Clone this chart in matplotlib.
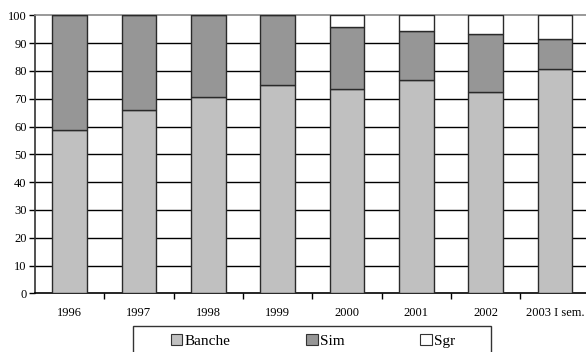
import matplotlib
matplotlib.use("Agg")
import matplotlib.pyplot as plt
from matplotlib.patches import Rectangle, Patch
import numpy as np

categories = ["1996", "1997", "1998", "1999", "2000", "2001", "2002", "2003 I sem."]
banche = [58.6, 66.0, 70.5, 75.0, 73.5, 76.8, 72.5, 80.6]
sim = [41.4, 34.0, 29.5, 25.0, 22.3, 17.7, 20.7, 10.8]
sgr = [0.0, 0.0, 0.0, 0.0, 4.2, 5.5, 6.8, 8.6]
yticks = list(range(0, 101, 10))

plt.rcParams["font.family"] = ["Liberation Serif", "DejaVu Serif"]

W, H = 586, 352
fig = plt.figure(figsize=(W / 100, H / 100), dpi=100)
left, right, top, bottom = 35, 589.5, 15.3, 293.3
ax = fig.add_axes([left / W, 1 - bottom / H, (right - left) / W, (bottom - top) / H])

x = np.arange(len(categories))
b = np.array(banche)
s = np.array(sim)
g = np.array(sgr)
edge = dict(edgecolor="#2a2a2a", linewidth=1.0, zorder=3)
ax.bar(x, b, width=0.5, color="#c0c0c0", **edge)
ax.bar(x, s, width=0.5, bottom=b, color="#969696", **edge)
ax.bar(x, g, width=0.5, bottom=b + s, color="#ffffff", **edge)

ax.set_xlim(-0.5, len(categories) - 0.5)
ax.set_ylim(0, 100)
ax.set_yticks(yticks)
ax.tick_params(axis="y", direction="out", length=4, width=1, labelsize=9, pad=2, colors="black")
ax.set_xticks(x)
ax.set_xticklabels(categories)
ax.tick_params(axis="x", which="major", length=0, labelsize=9, pad=10)
ax.set_xticks(np.arange(0.5, len(categories) - 0.5, 1), minor=True)
ax.tick_params(axis="x", which="minor", direction="out", length=4, width=1, color="black")

for yv in yticks[1:-1]:
    ax.axhline(yv, color="black", linewidth=1.0, zorder=1)

ax.spines["right"].set_visible(False)
ax.spines["top"].set_color("#888888")
ax.spines["top"].set_linewidth(1.2)
ax.spines["left"].set_color("#333333")
ax.spines["left"].set_linewidth(1.2)
ax.spines["bottom"].set_color("black")
ax.spines["bottom"].set_linewidth(1.2)

# legend frame and entries below the plot
fig.patches.append(Rectangle((133 / W, 1 - 362 / H), (491 - 133) / W, (362 - 325.7) / H,
                             transform=fig.transFigure, fill=False,
                             edgecolor="#333333", linewidth=1.0))
handles = [Patch(facecolor="#c0c0c0", edgecolor="#333333", linewidth=0.8, label="Banche"),
           Patch(facecolor="#969696", edgecolor="#333333", linewidth=0.8, label="Sim"),
           Patch(facecolor="#ffffff", edgecolor="#333333", linewidth=0.8, label="Sgr")]
fig.legend(handles=handles, loc="center left", bbox_to_anchor=(171 / W, 1 - 341 / H),
           ncol=3, frameon=False, fontsize=11, handlelength=0.75, handleheight=0.75,
           handletextpad=0.15, columnspacing=4.95, borderpad=0, borderaxespad=0)

fig.savefig("out.png", dpi=100)
